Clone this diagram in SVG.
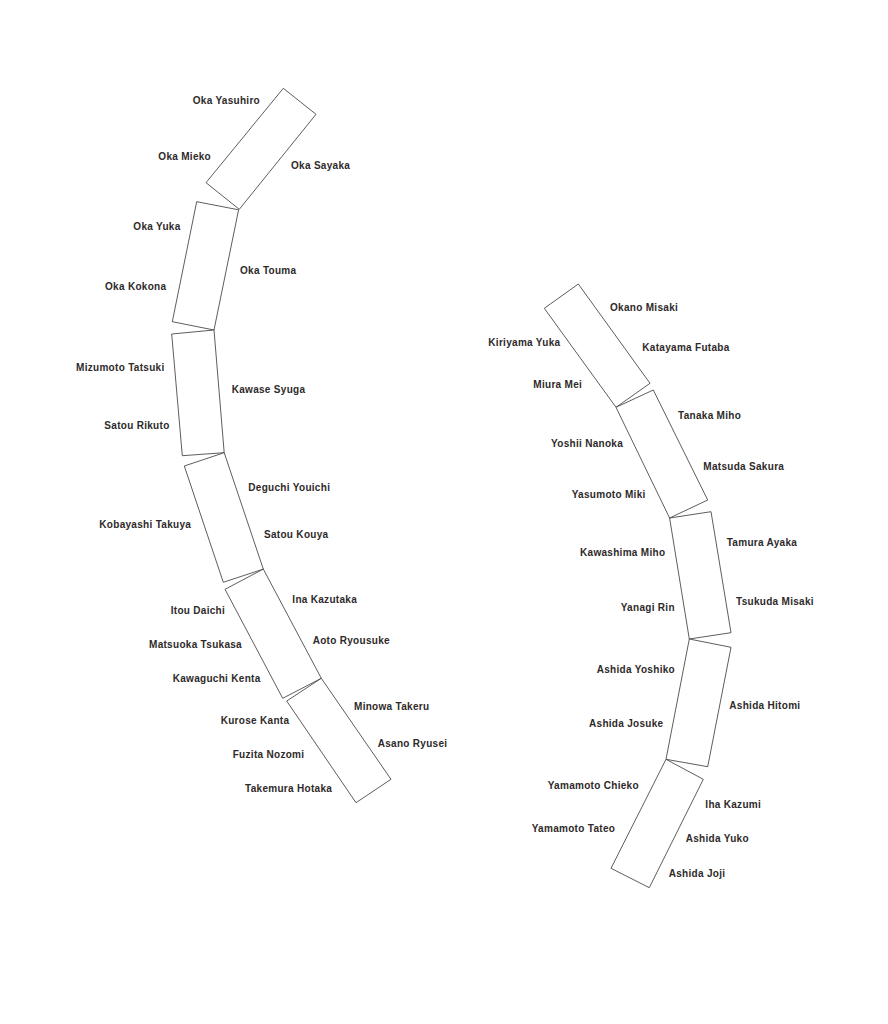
<svg xmlns="http://www.w3.org/2000/svg" width="888" height="1024" viewBox="0 0 888 1024">
<style>
.desk{fill:#fff;stroke:#333;stroke-width:0.8;stroke-linejoin:miter}
text{font-family:"Liberation Sans",Arial,sans-serif;font-size:10px;letter-spacing:0.3px;font-weight:bold;fill:#2e2a2a}
</style>
<rect width="888" height="1024" fill="#fff"/>
<g id="left-chain">
<g id="desk-L1"><polygon class="desk" points="283.3,88.3 316,114.3 239.3,209.3 206,182.7"/>
<text x="192.7" y="104">Oka Yasuhiro</text><text x="158.3" y="159.7">Oka Mieko</text><text x="291" y="169">Oka Sayaka</text></g>
<g id="desk-L2"><polygon class="desk" points="196.7,201.7 238.6,209.8 214,330 172.3,321.7"/>
<text x="133.3" y="230">Oka Yuka</text><text x="240" y="273.7">Oka Touma</text><text x="105" y="290">Oka Kokona</text></g>
<g id="desk-L3"><polygon class="desk" points="171.7,334 214,330 224.2,452.7 182.3,455.7"/>
<text x="76" y="370.7">Mizumoto Tatsuki</text><text x="231.7" y="393.3">Kawase Syuga</text><text x="104.3" y="429">Satou Rikuto</text></g>
<g id="desk-L4"><polygon class="desk" points="184.3,466 224.2,452.7 263.3,569.1 223.3,582.3"/>
<text x="248.3" y="490.7">Deguchi Youichi</text><text x="99.3" y="528.3">Kobayashi Takuya</text><text x="264" y="537.7">Satou Kouya</text></g>
<g id="desk-L5"><polygon class="desk" points="225,589.3 263.3,569.1 321.3,678.3 282.7,698.3"/>
<text x="292.3" y="603.3">Ina Kazutaka</text><text x="170.7" y="614">Itou Daichi</text><text x="312.7" y="644">Aoto Ryousuke</text><text x="149" y="648">Matsuoka Tsukasa</text><text x="172.7" y="682">Kawaguchi Kenta</text></g>
<g id="desk-L6"><polygon class="desk" points="286.7,701 321.3,678.3 391,779.3 356,802.7"/>
<text x="354" y="709.7">Minowa Takeru</text><text x="220.7" y="724">Kurose Kanta</text><text x="377.7" y="747">Asano Ryusei</text><text x="232.7" y="757.7">Fuzita Nozomi</text><text x="245" y="792.3">Takemura Hotaka</text></g>
</g>
<g id="right-chain">
<g id="desk-R1"><polygon class="desk" points="578.3,284 544.3,308.3 616,407.3 650,383.3"/>
<text x="610" y="310.7">Okano Misaki</text><text x="488.3" y="345.7">Kiriyama Yuka</text><text x="642.3" y="351">Katayama Futaba</text><text x="533.3" y="388.3">Miura Mei</text></g>
<g id="desk-R2"><polygon class="desk" points="653.3,390 616,407.3 669.6,518 707.7,500"/>
<text x="678" y="418.7">Tanaka Miho</text><text x="551" y="447">Yoshii Nanoka</text><text x="703.3" y="469.7">Matsuda Sakura</text><text x="571.7" y="498">Yasumoto Miki</text></g>
<g id="desk-R3"><polygon class="desk" points="669.6,518 711,511.7 731,632.7 689.3,639"/>
<text x="726.7" y="546">Tamura Ayaka</text><text x="580" y="556.3">Kawashima Miho</text><text x="736" y="605">Tsukuda Misaki</text><text x="620.7" y="611.3">Yanagi Rin</text></g>
<g id="desk-R4"><polygon class="desk" points="689.3,639 731,647.3 707.7,766.7 666,759.3"/>
<text x="596.7" y="673">Ashida Yoshiko</text><text x="729.3" y="709">Ashida Hitomi</text><text x="589" y="727.3">Ashida Josuke</text></g>
<g id="desk-R5"><polygon class="desk" points="666,759.3 703.3,779.3 649.3,887.7 611,868.3"/>
<text x="547.7" y="789">Yamamoto Chieko</text><text x="705.3" y="808">Iha Kazumi</text><text x="531.7" y="832.3">Yamamoto Tateo</text><text x="685.7" y="842.3">Ashida Yuko</text><text x="668.7" y="876.7">Ashida Joji</text></g>
</g>
</svg>
